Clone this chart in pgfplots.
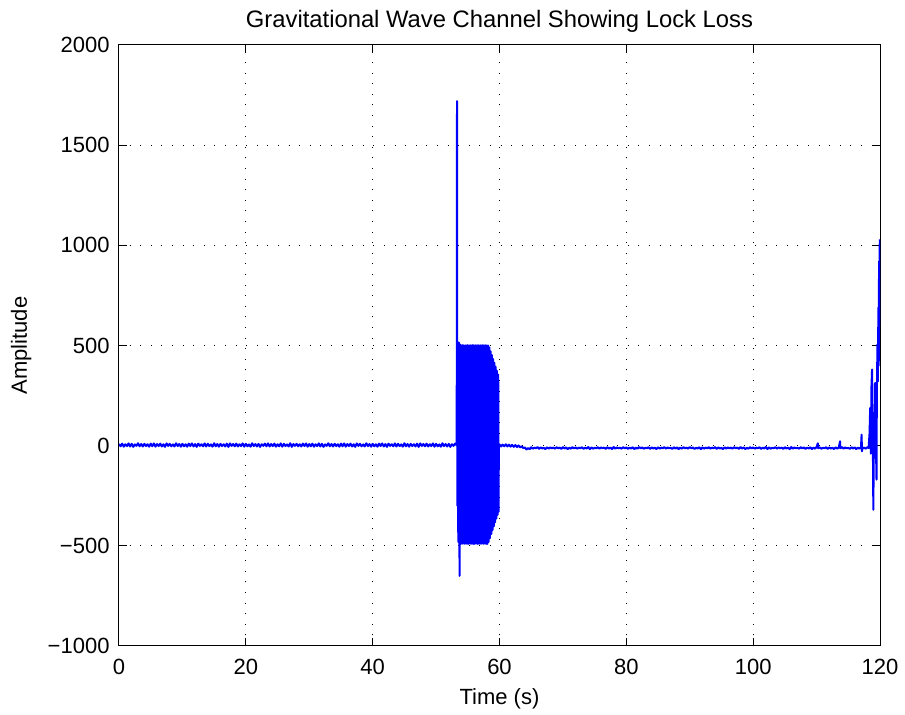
\documentclass[border=0pt]{standalone}
\usepackage{fontspec}
\setmainfont{Liberation Sans}
\usepackage{pgfplots}
\pgfplotsset{compat=1.18}
\begin{document}
\begin{tikzpicture}
\begin{axis}[
  scale only axis,
  width=380.5pt, height=300.5pt,
  xmin=0, xmax=120, ymin=-1000, ymax=2000,
  xtick={0,20,40,60,80,100,120},
  ytick={-1000,-500,0,500,1000,1500,2000},
  yticklabels={−1000,−500,0,500,1000,1500,2000},
  /pgf/number format/assume math mode=true,
  tick align=inside,
  major tick length=4pt,
  tick style={black, line width=0.5pt},
  axis line style={black, line width=0.5pt},
  grid=major,
  major grid style={black, line width=0.5pt, dash pattern=on 0.5pt off 4.8pt},
  tick label style={font=\fontsize{11}{13}\selectfont},
  yticklabel style={xshift=-1.2pt},
  xticklabel style={yshift=-3pt},
  title={Gravitational Wave Channel Showing Lock Loss},
  title style={font=\fontsize{11.9}{13}\selectfont, at={(axis description cs:0.5,1)}, anchor=base, yshift=2.5pt},
  xlabel={Time (s)},
  xlabel style={font=\fontsize{11}{13}\selectfont, at={([yshift=-29.5pt]axis description cs:0.5,0)}, anchor=base},
  ylabel={Amplitude},
  ylabel style={font=\fontsize{11}{13}\selectfont, at={([xshift=-46pt]axis description cs:0,0.5)}, anchor=base, rotate=0},
]
\addplot[color={rgb,255:red,0;green,0;blue,255}, line width=1pt, line join=round] table {
0 8
0.25 -3
0.5 10
0.75 -5
1 7
1.25 -2
1.5 11
1.75 -4
2 9
2.25 -6
2.5 6
2.75 -1
3 12
3.25 -3
3.5 8
3.75 -4
4 9
4.25 -2
4.5 7
4.75 -5
5 10
5.25 -3
5.5 11
5.75 -5
6 8
6.25 -2
6.5 10
6.75 -4
7 7
7.25 -6
7.5 11
7.75 -1
8 9
8.25 -3
8.5 6
8.75 -4
9 12
9.25 -2
9.5 8
9.75 -5
10 9
10.25 -3
10.5 7
10.75 -5
11 10
11.25 -2
11.5 11
11.75 -4
12 8
12.25 -6
12.5 10
12.75 -1
13 7
13.25 -3
13.5 11
13.75 -4
14 9
14.25 -2
14.5 6
14.75 -5
15 12
15.25 -3
15.5 8
15.75 -5
16 9
16.25 -2
16.5 7
16.75 -4
17 10
17.25 -6
17.5 11
17.75 -1
18 8
18.25 -3
18.5 10
18.75 -4
19 7
19.25 -2
19.5 11
19.75 -5
20 9
20.25 -3
20.5 6
20.75 -5
21 12
21.25 -2
21.5 8
21.75 -4
22 9
22.25 -6
22.5 7
22.75 -1
23 10
23.25 -3
23.5 11
23.75 -4
24 8
24.25 -2
24.5 10
24.75 -5
25 7
25.25 -3
25.5 11
25.75 -5
26 9
26.25 -2
26.5 6
26.75 -4
27 12
27.25 -6
27.5 8
27.75 -1
28 9
28.25 -3
28.5 7
28.75 -4
29 10
29.25 -2
29.5 11
29.75 -5
30 8
30.25 -3
30.5 10
30.75 -5
31 7
31.25 -2
31.5 11
31.75 -4
32 9
32.25 -6
32.5 6
32.75 -1
33 12
33.25 -3
33.5 8
33.75 -4
34 9
34.25 -2
34.5 7
34.75 -5
35 10
35.25 -3
35.5 11
35.75 -5
36 8
36.25 -2
36.5 10
36.75 -4
37 7
37.25 -6
37.5 11
37.75 -1
38 9
38.25 -3
38.5 6
38.75 -4
39 12
39.25 -2
39.5 8
39.75 -5
40 9
40.25 -3
40.5 7
40.75 -5
41 10
41.25 -2
41.5 11
41.75 -4
42 8
42.25 -6
42.5 10
42.75 -1
43 7
43.25 -3
43.5 11
43.75 -4
44 9
44.25 -2
44.5 6
44.75 -5
45 12
45.25 -3
45.5 8
45.75 -5
46 9
46.25 -2
46.5 7
46.75 -4
47 10
47.25 -6
47.5 11
47.75 -1
48 8
48.25 -3
48.5 10
48.75 -4
49 7
49.25 -2
49.5 11
49.75 -5
50 9
50.25 -3
50.5 6
50.75 -5
51 12
51.25 -2
51.5 8
51.75 -4
52 9
52.25 -6
52.5 7
52.75 -1
53 10
53.25 2
53.3 1720
53.35 -300
53.4 510
53.5 -480
53.6 515
53.7 -650
53.8 505
53.9 -490
54.0 500
54.1 -490
54.2 502
54.3 -488
54.4 500
54.5 -490
54.6 501
54.7 -489
54.8 500
54.9 -490
55.0 502
55.1 -490
55.2 500
55.3 -488
55.4 501
55.5 -490
55.6 500
55.7 -489
55.8 502
55.9 -490
56.0 500
56.1 -490
56.2 501
56.3 -488
56.4 500
56.5 -490
56.6 502
56.7 -489
56.8 500
56.9 -490
57.0 501
57.1 -490
57.2 500
57.3 -488
57.4 502
57.5 -490
57.6 500
57.7 -489
57.8 501
57.9 -490
58.0 500
58.1 -490
58.2 500
58.3 -480
58.4 490
58.5 -461
58.6 471
58.7 -441
58.8 452
58.9 -422
59.0 432
59.1 -403
59.2 413
59.3 -383
59.4 394
59.5 -364
59.6 374
59.7 -345
59.8 355
59.85 -330
59.9 2
60 6
60.25 -4
60.5 5
60.75 -3
61 7
61.25 -4
61.5 5
61.75 -5
62 4
62.25 -6
62.5 3
62.75 -7
63 1
63.25 -9
63.5 -3
63.75 -12
64 -9
64.25 -19
64.5 -12
64.75 -18
65 -8
65.25 -15
65.5 -10
65.75 -13
66 -7
66.25 -16
66.5 -9
66.75 -14
67 -11
67.25 -17
67.5 -8
67.75 -15
68 -9
68.25 -13
68.5 -10
68.75 -15
69 -8
69.25 -13
69.5 -10
69.75 -16
70 -7
70.25 -14
70.5 -9
70.75 -17
71 -11
71.25 -15
71.5 -8
71.75 -13
72 -9
72.25 -15
72.5 -10
72.75 -13
73 -8
73.25 -16
73.5 -10
73.75 -14
74 -7
74.25 -17
74.5 -9
74.75 -15
75 -11
75.25 -13
75.5 -8
75.75 -15
76 -9
76.25 -13
76.5 -10
76.75 -16
77 -8
77.25 -14
77.5 -10
77.75 -17
78 -7
78.25 -15
78.5 -9
78.75 -13
79 -11
79.25 -15
79.5 -8
79.75 -13
80 -9
80.25 -16
80.5 -10
80.75 -14
81 -8
81.25 -17
81.5 -10
81.75 -15
82 -7
82.25 -13
82.5 -9
82.75 -15
83 -11
83.25 -13
83.5 -8
83.75 -16
84 -9
84.25 -14
84.5 -10
84.75 -17
85 -8
85.25 -15
85.5 -10
85.75 -13
86 -7
86.25 -15
86.5 -9
86.75 -13
87 -11
87.25 -16
87.5 -8
87.75 -14
88 -9
88.25 -17
88.5 -10
88.75 -15
89 -8
89.25 -13
89.5 -10
89.75 -15
90 -7
90.25 -13
90.5 -9
90.75 -16
91 -11
91.25 -14
91.5 -8
91.75 -17
92 -9
92.25 -15
92.5 -10
92.75 -13
93 -8
93.25 -15
93.5 -10
93.75 -13
94 -7
94.25 -16
94.5 -9
94.75 -14
95 -11
95.25 -17
95.5 -8
95.75 -15
96 -9
96.25 -13
96.5 -10
96.75 -15
97 -8
97.25 -13
97.5 -10
97.75 -16
98 -7
98.25 -14
98.5 -9
98.75 -17
99 -11
99.25 -15
99.5 -8
99.75 -13
100 -9
100.25 -15
100.5 -10
100.75 -13
101 -8
101.25 -16
101.5 -10
101.75 -14
102 -7
102.25 -17
102.5 -9
102.75 -15
103 -11
103.25 -13
103.5 -8
103.75 -15
104 -9
104.25 -13
104.5 -10
104.75 -16
105 -8
105.25 -14
105.5 -10
105.75 -17
106 -7
106.25 -15
106.5 -9
106.75 -13
107 -11
107.25 -15
107.5 -8
107.75 -13
108 -9
108.25 -16
108.5 -10
108.75 -14
109 -8
109.25 -17
109.5 -10
109.75 -15
110 -7
110.2 12
110.25 -13
110.5 -9
110.75 -15
111 -11
111.25 -13
111.5 -8
111.75 -16
112 -9
112.25 -14
112.5 -10
112.75 -17
113 -8
113.25 -15
113.5 -10
113.7 22
113.75 -13
114 -7
114.25 -15
114.5 -9
114.75 -13
115 -11
115.25 -16
115.5 -8
115.75 -14
116 -9
116.25 -17
116.5 -10
116.75 -15
117 -8
117.1 55
117.15 -28
117.25 -13
117.5 -10
117.75 -15
118 -8
118.2 -12
118.35 60
118.45 188
118.55 -40
118.65 290
118.75 380
118.85 120
118.95 -320
119.05 140
119.15 -60
119.25 313
119.35 20
119.45 -170
119.5 250
119.6 505
119.65 320
119.75 690
119.8 400
119.85 920
119.9 600
119.95 1000
120.0 1030
};
\end{axis}
\pgfresetboundingbox
\path[use as bounding box] (-59.5pt,-34.5pt) rectangle (393pt,323pt);
\end{tikzpicture}
\end{document}
